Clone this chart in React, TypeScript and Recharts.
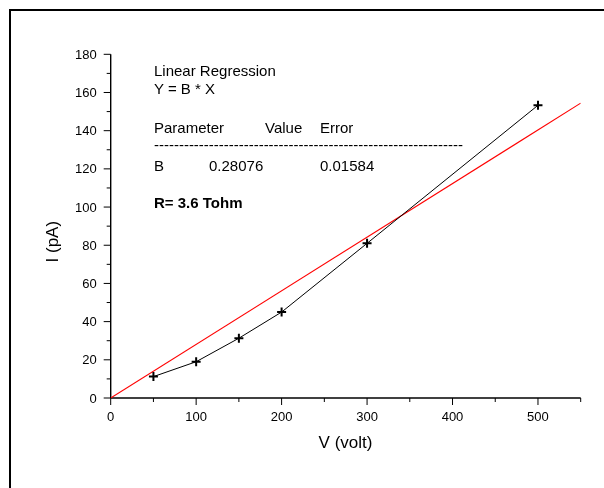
import React from 'react';
import { ScatterChart, Scatter, XAxis, YAxis, Customized } from 'recharts';

// Measured data
const voltage = [50, 100, 150, 200, 300, 500];
const current = [11.2, 19, 31.3, 45, 81, 153.3];

// Linear regression Y = B * X (endpoints of the fitted line)
const fitVoltage = [0, 550];
const fitCurrent = [0, 154.42];

// Axis ticks
const xMajor = [0, 100, 200, 300, 400, 500];
const xMinor = [50, 150, 250, 350, 450, 550];
const yMajor = [0, 20, 40, 60, 80, 100, 120, 140, 160, 180];
const yMinor = [10, 30, 50, 70, 90, 110, 130, 150, 170];

const xTitle = 'V (volt)';
const yTitle = 'I (pA)';

const regressionTitle = 'Linear Regression';
const regressionModel = 'Y = B * X';
const tableHeader = ['Parameter', 'Value', 'Error'];
const tableRow = ['B', '0.28076', '0.01584'];
const resistanceNote = 'R= 3.6 Tohm';
const separator = '-'.repeat(62);

const measured = voltage.map((v, k) => ({ v, i: current[k] }));
const fitted = fitVoltage.map((v, k) => ({ v, i: fitCurrent[k] }));
const xTicks = [...xMajor, ...xMinor].sort((a, b) => a - b);
const yTicks = [...yMajor, ...yMinor].sort((a, b) => a - b);

const FONT = '"Liberation Sans", Arial, Helvetica, sans-serif';

const XTick = (props: any) => {
  const { x, y, payload } = props;
  const v = payload.value;
  const major = xMajor.includes(v);
  return (
    <g>
      <line x1={x} x2={x} y1={y} y2={y + (major ? 7 : 4)} stroke="#000" strokeWidth={1} />
      {major && (
        <text x={x} y={y + 22.5} textAnchor="middle" fontSize={13} fontFamily={FONT} fill="#000">
          {v}
        </text>
      )}
    </g>
  );
};

const YTick = (props: any) => {
  const { x, y, payload } = props;
  const v = payload.value;
  const major = yMajor.includes(v);
  return (
    <g>
      <line x1={x - (major ? 7 : 4)} x2={x} y1={y} y2={y} stroke="#000" strokeWidth={1} />
      {major && (
        <text x={x - 14} y={y + 4.6} textAnchor="end" fontSize={13} fontFamily={FONT} fill="#000">
          {v}
        </text>
      )}
    </g>
  );
};

const Plus = (props: any) => {
  const { cx, cy } = props;
  if (cx == null || cy == null) return <g />;
  return (
    <path
      d={`M${cx - 4.5},${cy}H${cx + 4.5}M${cx},${cy - 4.5}V${cy + 4.5}`}
      stroke="#000"
      strokeWidth={2}
      fill="none"
    />
  );
};

const NoDot = () => <g />;

const Annotations = () => (
  <g fontFamily={FONT} fill="#000" fontSize={15}>
    <text x={146} y={67.7}>{regressionTitle}</text>
    <text x={146} y={86.3}>{regressionModel}</text>
    <text x={146} y={124.7}>{tableHeader[0]}</text>
    <text x={257} y={124.7}>{tableHeader[1]}</text>
    <text x={312} y={124.7}>{tableHeader[2]}</text>
    <text x={146} y={142.2} textLength={309} lengthAdjust="spacing">{separator}</text>
    <text x={146} y={162.7}>{tableRow[0]}</text>
    <text x={201} y={162.7}>{tableRow[1]}</text>
    <text x={312} y={162.7}>{tableRow[2]}</text>
    <text x={146} y={200.3} fontWeight="bold">{resistanceNote}</text>
    <text x={337.5} y={440} textAnchor="middle" fontSize={17}>{xTitle}</text>
    <text
      x={0}
      y={0}
      textAnchor="middle"
      fontSize={17}
      transform="translate(50,233.7) rotate(-90)"
    >
      {yTitle}
    </text>
  </g>
);

export default function App() {
  return (
    <div
      style={{
        position: 'relative',
        width: 596,
        height: 480,
        marginBottom: -8,
        background: '#fff',
      }}
    >
      <div
        style={{
          position: 'fixed',
          left: 9,
          top: 9,
          width: 800,
          height: 800,
          border: '2px solid #000',
          boxSizing: 'border-box',
          pointerEvents: 'none',
        }}
      />
      <div style={{ position: 'absolute', left: 0, top: 0 }}>
        <ScatterChart
          width={596}
          height={480}
          margin={{ top: 46.3, right: 23.3, left: 42.7, bottom: 60 }}
        >
          <XAxis
            type="number"
            dataKey="v"
            domain={[0, 550]}
            ticks={xTicks}
            interval={0}
            tickSize={0}
            tickMargin={0}
            tickLine={false}
            tick={<XTick />}
            axisLine={{ stroke: '#000', strokeWidth: 1.4 }}
            height={30}
            allowDataOverflow
          />
          <YAxis
            type="number"
            dataKey="i"
            domain={[0, 180]}
            ticks={yTicks}
            interval={0}
            tickSize={0}
            tickMargin={0}
            tickLine={false}
            tick={<YTick />}
            axisLine={{ stroke: '#000', strokeWidth: 1.4 }}
            width={60}
            allowDataOverflow
          />
          <Scatter
            data={fitted}
            line={{ stroke: '#ff0000', strokeWidth: 1.1 }}
            shape={<NoDot />}
            isAnimationActive={false}
          />
          <Scatter
            data={measured}
            line={{ stroke: '#000', strokeWidth: 1 }}
            shape={<Plus />}
            isAnimationActive={false}
          />
          <Customized component={Annotations} />
        </ScatterChart>
      </div>
    </div>
  );
}
